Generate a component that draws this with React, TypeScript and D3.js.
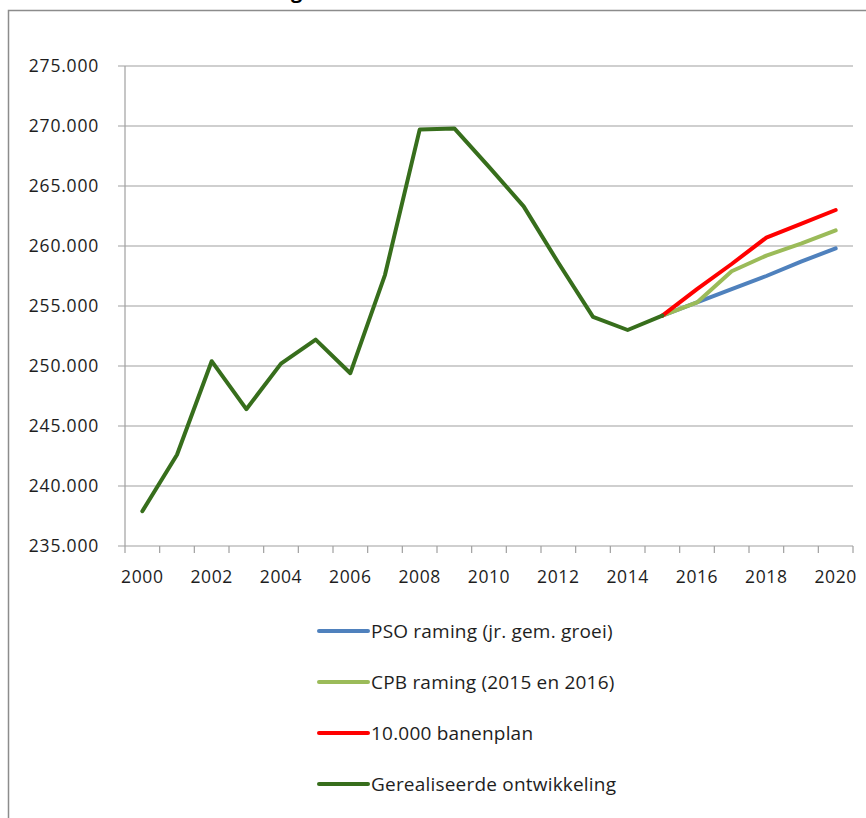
import React from "react";
import * as d3 from "d3";

const years = d3.range(2000, 2021);
const realized: [number, number][] = [
  [2000, 237900], [2001, 242600], [2002, 250400], [2003, 246400], [2004, 250200],
  [2005, 252200], [2006, 249400], [2007, 257600], [2008, 269700], [2009, 269800],
  [2010, 266600], [2011, 263300], [2012, 258600], [2013, 254100], [2014, 253000],
  [2015, 254200],
];
const pso: [number, number][] = [
  [2015, 254200], [2016, 255300], [2017, 256400], [2018, 257500], [2019, 258700], [2020, 259800],
];
const cpb: [number, number][] = [
  [2015, 254200], [2016, 255300], [2017, 257900], [2018, 259200], [2019, 260200], [2020, 261300],
];
const banen: [number, number][] = [
  [2015, 254200], [2016, 256400], [2017, 258500], [2018, 260700], [2019, 261850], [2020, 263000],
];
const yTicks = [235000, 240000, 245000, 250000, 255000, 260000, 265000, 270000, 275000];
const xLabelYears = [2000, 2002, 2004, 2006, 2008, 2010, 2012, 2014, 2016, 2018, 2020];

const series = [
  { name: "PSO raming (jr. gem. groei)", color: "#4f81bd", data: pso },
  { name: "CPB raming (2015 en 2016)", color: "#9bbb59", data: cpb },
  { name: "10.000 banenplan", color: "#ff0000", data: banen },
  { name: "Gerealiseerde ontwikkeling", color: "#376e1c", data: realized },
];

const W = 866, H = 818;
const left = 125, right = 853, top = 66, bottom = 546;
const font = "'Open Sans', sans-serif";
const textColor = "#1e1e1e";

export default function App() {
  const xBand = d3.scaleBand<number>().domain(years).range([left, right]).padding(0);
  const xc = (yr: number) => (xBand(yr) as number) + xBand.bandwidth() / 2;
  const y = d3.scaleLinear().domain([235000, 275000]).range([bottom, top]);
  const line = d3.line<[number, number]>().x((d) => xc(d[0])).y((d) => y(d[1]));
  const fmt = (v: number) => d3.format(",")(v).replace(/,/g, ".");
  const boundaries = d3.range(years.length + 1).map((i) => left + i * xBand.bandwidth());
  const legendY = [631, 682, 733, 784];

  return (
    <svg width={W} height={H} style={{ position: "absolute", left: 0, top: 0, background: "#fff" }}>
      <rect x={8.5} y={10.5} width={W + 20} height={H + 20} fill="#fff" stroke="#8c8c8c" strokeWidth={1.5} />
      <text x={168} y={-2} fontFamily={font} fontWeight="bold" fontSize={20} fill="#000">Ontwikkeling</text>
      {yTicks.map((t) => (
        <g key={t}>
          <line x1={left - 7} x2={right} y1={y(t)} y2={y(t)} stroke="#a0a0a0" strokeWidth={1.2} />
          <text x={99} y={y(t)} dy="0.36em" textAnchor="end" fontFamily={font} fontSize={17.5} letterSpacing={0.8} fill={textColor}>
            {fmt(t)}
          </text>
        </g>
      ))}
      <line x1={left} x2={left} y1={top} y2={bottom} stroke="#a0a0a0" strokeWidth={1.2} />
      {boundaries.map((bx, i) => (
        <line key={i} x1={bx} x2={bx} y1={bottom} y2={bottom + 7} stroke="#a0a0a0" strokeWidth={1.2} />
      ))}
      {xLabelYears.map((yr) => (
        <text key={yr} x={xc(yr)} y={577} dy="0.36em" textAnchor="middle" fontFamily={font} fontSize={17.5} letterSpacing={0.6} fill={textColor}>
          {yr}
        </text>
      ))}
      {series.map((s) => (
        <path key={s.name} d={line(s.data) as string} fill="none" stroke={s.color} strokeWidth={4} strokeLinejoin="round" strokeLinecap="round" />
      ))}
      {series.map((s, i) => (
        <g key={s.name}>
          <line x1={319} x2={368} y1={legendY[i]} y2={legendY[i]} stroke={s.color} strokeWidth={4} strokeLinecap="round" />
          <text x={371} y={legendY[i]} dy="0.36em" fontFamily={font} fontSize={19} letterSpacing={0.2} fill={textColor}>
            {s.name}
          </text>
        </g>
      ))}
    </svg>
  );
}
